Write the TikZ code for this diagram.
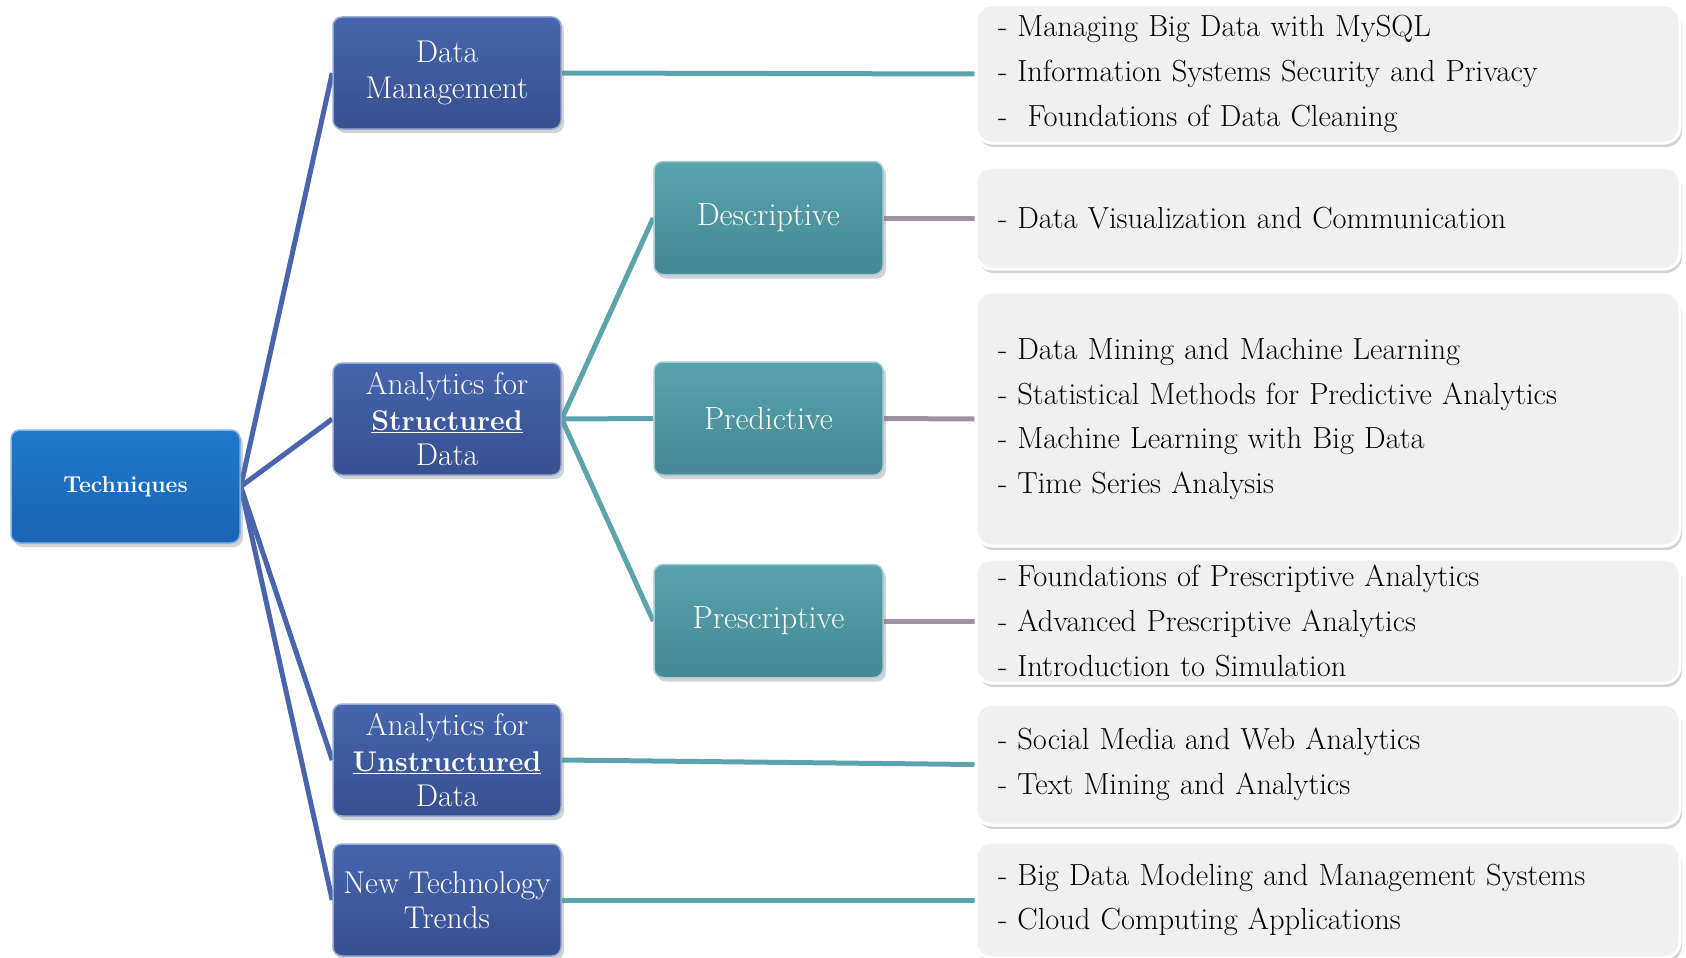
\documentclass[tikz,border=0pt]{standalone}
\usepackage{tikz}
\usetikzlibrary{positioning,shadows,backgrounds}
\usepackage{xcolor}
\definecolor{techtop}{HTML}{2079CC}
\definecolor{techbot}{HTML}{1A64B4}
\definecolor{areatop}{HTML}{4565AE}
\definecolor{areabot}{HTML}{37508F}
\definecolor{kindtop}{HTML}{56A3AE}
\definecolor{kindbot}{HTML}{468893}
\definecolor{listfill}{HTML}{F0F0F0}
\definecolor{linkblue}{HTML}{4A64AE}
\definecolor{linkteal}{HTML}{5BA4AE}
\definecolor{linkmauve}{HTML}{9F90A2}
\newcommand{\keyword}[1]{{\fontsize{28.5}{35.5}\selectfont\textbf{\underline{#1}}}}

\tikzset{
  boxbase/.style={rounded corners=9pt, line width=1.5pt, align=center,
    drop shadow={opacity=0.35,shadow xshift=3pt,shadow yshift=-4pt}},
  techbox/.style={boxbase, top color=techtop, bottom color=techbot, draw=techtop!55!white,
    text=white, font=\bfseries\fontsize{23}{28}\selectfont,
    minimum width=229pt, minimum height=113pt},
  areabox/.style={boxbase, top color=areatop, bottom color=areabot, draw=areatop!55!white,
    text=white, font=\fontsize{31.5}{35.5}\selectfont,
    minimum width=228pt, minimum height=112pt, inner sep=2pt},
  kindbox/.style={boxbase, top color=kindtop, bottom color=kindbot, draw=kindtop!55!white,
    text=white, font=\fontsize{32}{35.5}\selectfont,
    minimum width=229pt, minimum height=113pt},
  listbox/.style={rounded corners=16pt, fill=listfill, draw=white, line width=3pt,
    drop shadow={opacity=0.35,shadow xshift=2pt,shadow yshift=-4pt},
    font=\fontsize{30.5}{44.6}\selectfont, align=left, text width=660pt,
    minimum width=704pt, inner xsep=22pt},
  bluelink/.style={linkblue, line width=5pt},
  teallink/.style={linkteal, line width=5pt},
  mauvelink/.style={linkmauve, line width=5pt}
}

\begin{document}
\begin{tikzpicture}[x=1pt,y=-1pt]
  % Frame
  \useasboundingbox (0,0) rectangle (1686,958);
  % Right lists
  \node[listbox, minimum height=138pt] (mgmtlist) at (1328,74) {- Managing Big Data with MySQL\\- Information Systems Security and Privacy\\-\ \ Foundations of Data Cleaning};
  \node[listbox, minimum height=102pt] (desclist) at (1328,218) {- Data Visualization and Communication};
  \node[listbox, minimum height=254pt] (predlist) at (1328,419) {- Data Mining and Machine Learning\\- Statistical Methods for Predictive Analytics\\- Machine Learning with Big Data\\- Time Series Analysis};
  \node[listbox, minimum height=124pt] (presclist) at (1328,621) {- Foundations of Prescriptive Analytics\\- Advanced Prescriptive Analytics\\- Introduction to Simulation};
  \node[listbox, minimum height=121pt] (unstrlist) at (1328,764.5) {- Social Media and Web Analytics\\- Text Mining and Analytics};
  \node[listbox, minimum height=116pt] (trendlist) at (1328,900) {- Big Data Modeling and Management Systems\\- Cloud Computing Applications};
  % Boxes
  \node[techbox] (tech) at (125.5,486.5) {Techniques};
  \node[areabox] (mgmt) at (447,73) {Data\\Management};
  \node[areabox] (structured) at (447,419) {Analytics for\\\keyword{Structured}\\Data};
  \node[areabox] (unstructured) at (447,760) {Analytics for\\\keyword{Unstructured}\\Data};
  \node[areabox] (trends) at (447,900) {New Technology\\Trends};
  \node[kindbox] (desc) at (768.5,218) {Descriptive};
  \node[kindbox] (pred) at (768.5,418.5) {Predictive};
  \node[kindbox] (presc) at (768.5,621) {Prescriptive};
  % Connectors
  \begin{scope}[on background layer]
    \draw[bluelink] (tech.east) -- (mgmt.west);
    \draw[bluelink] (tech.east) -- (structured.west);
    \draw[bluelink] (tech.east) -- (unstructured.west);
    \draw[bluelink] (tech.east) -- (trends.west);
    \draw[teallink] (mgmt.east) -- (mgmtlist.west);
    \draw[teallink] (structured.east) -- (desc.west);
    \draw[teallink] (structured.east) -- (pred.west);
    \draw[teallink] (structured.east) -- (presc.west);
    \draw[mauvelink] (desc.east) -- (desclist.west);
    \draw[mauvelink] (pred.east) -- (predlist.west);
    \draw[mauvelink] (presc.east) -- (presclist.west);
    \draw[teallink] (unstructured.east) -- (unstrlist.west);
    \draw[teallink] (trends.east) -- (trendlist.west);
  \end{scope}
\end{tikzpicture}
\end{document}
